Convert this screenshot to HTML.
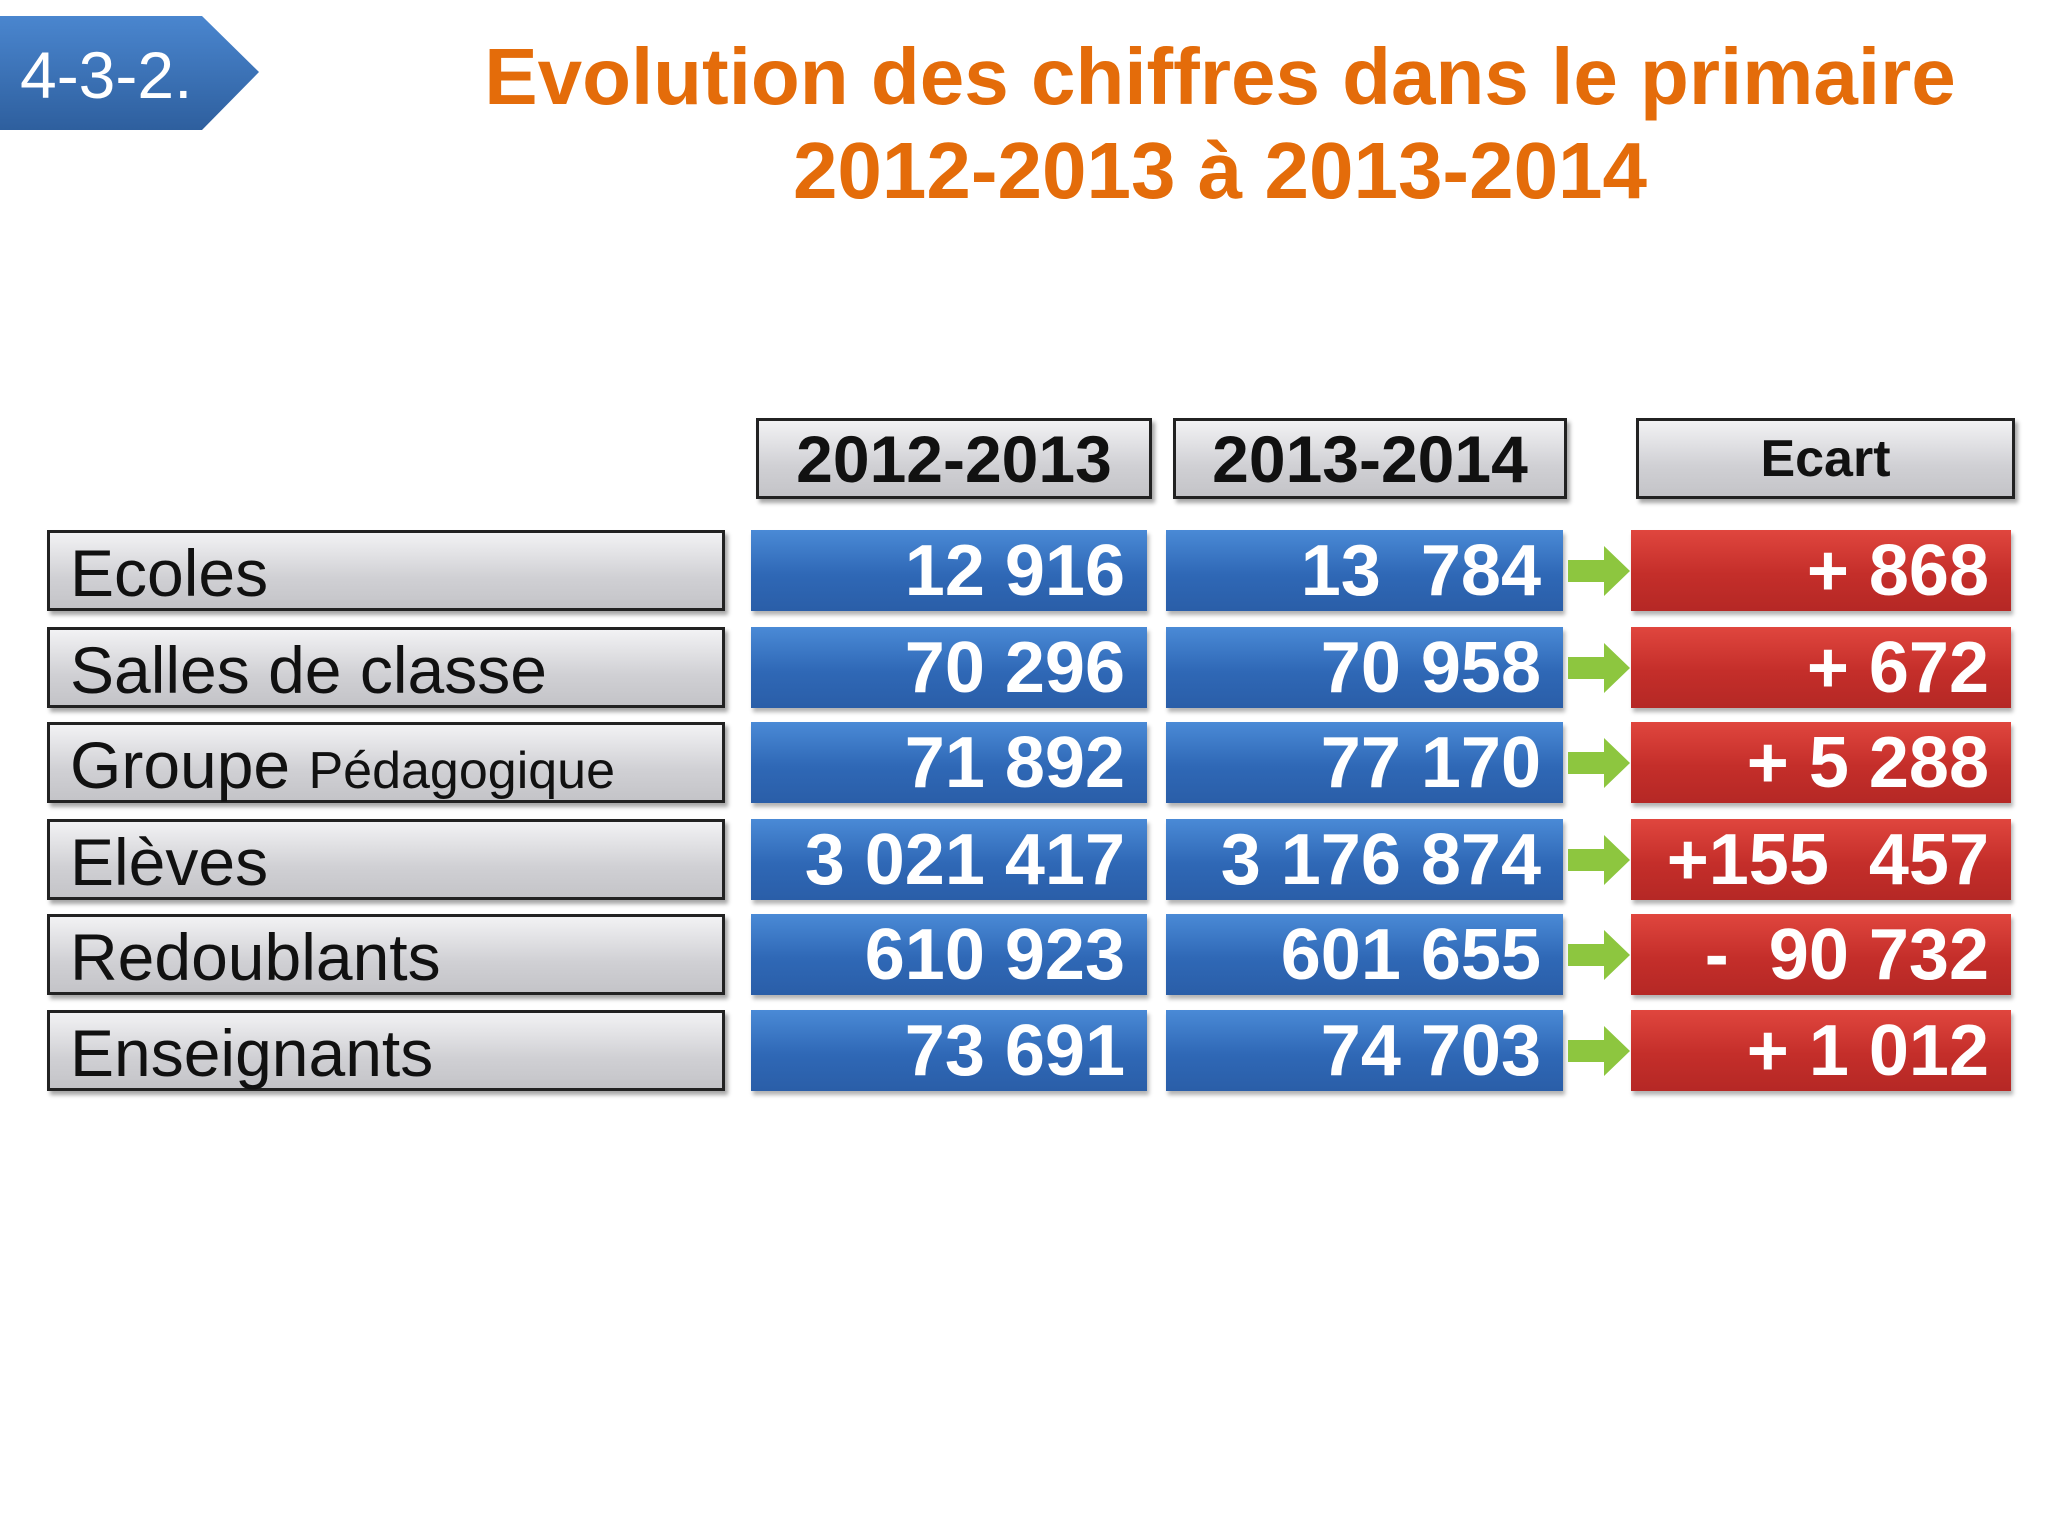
<!DOCTYPE html>
<html><head><meta charset="utf-8">
<style>
body{margin:0;width:2048px;height:1536px;background:#fff;position:relative;overflow:hidden;font-family:"Liberation Sans",sans-serif}
.abs{position:absolute;box-sizing:border-box}
.grey{background:linear-gradient(#f2f2f4,#d0d0d4 60%,#c4c4c8);border:3px solid #222;box-shadow:3px 4px 4px rgba(0,0,0,.35)}
.hdr{font-weight:bold;color:#111;text-align:center;font-size:66px;line-height:76px}
.lab{font-size:66px;line-height:80px;padding-left:20px;color:#111}
.blue{background:linear-gradient(#4a8ad6,#2f68b6 55%,#2a5ea8);color:#fff;font-weight:bold;font-size:72px;line-height:82px;text-align:right;padding-right:22px;box-shadow:2px 4px 4px rgba(0,0,0,.3)}
.red{background:linear-gradient(#e0463e,#c42e2a 55%,#b52825);color:#fff;font-weight:bold;font-size:72px;line-height:82px;text-align:right;padding-right:22px;box-shadow:2px 4px 4px rgba(0,0,0,.3)}
.title{color:#e46c0a;font-weight:bold;font-size:80px;text-align:center;line-height:94px}
</style></head><body>
<svg class="abs" style="left:0;top:14px" width="262" height="120">
<defs><linearGradient id="bg" x1="0" y1="0" x2="0" y2="1"><stop offset="0" stop-color="#4a86cf"/><stop offset="1" stop-color="#2e5f9e"/></linearGradient></defs>
<polygon points="0,2 202,2 259,58 202,116 0,116" fill="url(#bg)"/>
<text x="20" y="84" fill="#fff" font-family="Liberation Sans" font-size="66">4-3-2.</text></svg>
<div class="abs title" style="left:440px;top:30px;width:1560px">Evolution des chiffres dans le primaire<br>2012-2013 à 2013-2014</div>
<div class="abs grey hdr" style="left:756px;top:418px;width:396px;height:81px">2012-2013</div>
<div class="abs grey hdr" style="left:1173px;top:418px;width:394px;height:81px">2013-2014</div>
<div class="abs grey hdr" style="left:1636px;top:418px;width:379px;height:81px;font-size:52px">Ecart</div>
<div id="rows"></div>
<script>
const labels=["Ecoles","Salles de classe","Groupe <span style='font-size:52px'>Pédagogique</span>","Elèves","Redoublants","Enseignants"];
const v2012=["12 916","70 296","71 892","3 021 417","610 923","73 691"];
const v2013=["13&nbsp; 784","70 958","77 170","3 176 874","601 655","74 703"];
const ecart=["+ 868","+ 672","+ 5 288","+155&nbsp; 457","-&nbsp; 90 732","+ 1 012"];
const tops=[530,627,722,819,914,1010];
let h='';
for(let i=0;i<labels.length;i++){const t=tops[i];
h+=`<div class="abs grey lab" style="left:47px;top:${t}px;width:678px;height:81px">${labels[i]}</div>`;
h+=`<div class="abs blue" style="left:751px;top:${t}px;width:396px;height:81px">${v2012[i]}</div>`;
h+=`<div class="abs blue" style="left:1166px;top:${t}px;width:397px;height:81px">${v2013[i]}</div>`;
h+=`<svg class="abs" style="left:1566px;top:${t+12}px" width="66" height="58"><polygon points="2,18 38,18 38,4 64,29 38,54 38,40 2,40" fill="#8dc63f"/></svg>`;
h+=`<div class="abs red" style="left:1631px;top:${t}px;width:380px;height:81px">${ecart[i]}</div>`;}
document.getElementById('rows').innerHTML=h;
</script>
</body></html>
